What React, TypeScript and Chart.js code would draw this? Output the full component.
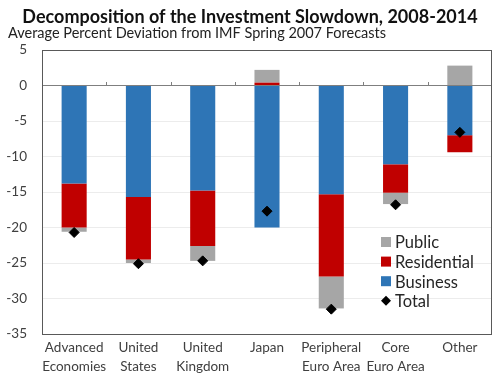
import React, { useEffect, useRef } from "react";
import { Chart, registerables } from "chart.js";

Chart.register(...registerables);

const categories: (string | string[])[] = [
  ["Advanced", "Economies"],
  ["United", "States"],
  ["United", "Kingdom"],
  "Japan",
  ["Peripheral", "Euro Area"],
  ["Core", "Euro Area"],
  "Other",
];
const business = [-13.8, -15.7, -14.8, -20.0, -15.3, -11.1, -7.0];
const residential = [-6.2, -8.8, -7.8, 0.4, -11.6, -4.0, -2.4];
const publicInv = [-0.6, -0.5, -2.1, 1.8, -4.5, -1.6, 2.8];
const total = [-20.7, -25.1, -24.7, -17.7, -31.5, -16.8, -6.6];

const yMin = -35;
const yMax = 5;
const yStep = 5;

const titleText = "Decomposition of the Investment Slowdown, 2008-2014";
const subtitleText = "Average Percent Deviation from IMF Spring 2007 Forecasts";

const COLORS = { business: "#2E75B6", residential: "#C00000", public: "#A6A6A6", total: "#000000" };
const FONT = "Lato, 'Open Sans', sans-serif";
const TEXT = "#404040";

const legendItems = [
  { label: "Public", color: COLORS.public, kind: "box" },
  { label: "Residential", color: COLORS.residential, kind: "box" },
  { label: "Business", color: COLORS.business, kind: "box" },
  { label: "Total", color: COLORS.total, kind: "diamond" },
];

const decorPlugin = {
  id: "decor",
  beforeDatasetsDraw(chart: any) {
    const { ctx, scales } = chart;
    const y0 = Math.round(scales.y.getPixelForValue(0));
    const n = chart.data.labels.length;
    ctx.save();
    ctx.strokeStyle = "#7f7f7f";
    ctx.lineWidth = 1;
    for (let i = 1; i < n; i++) {
      const x = Math.round((scales.x.getPixelForValue(i - 1) + scales.x.getPixelForValue(i)) / 2) + 0.5;
      ctx.beginPath();
      ctx.moveTo(x, y0 - 4);
      ctx.lineTo(x, y0);
      ctx.stroke();
    }
    ctx.restore();
  },
  afterDraw(chart: any) {
    const { ctx, chartArea: a } = chart;
    ctx.save();
    // plot box
    ctx.strokeStyle = "#595959";
    ctx.lineWidth = 1;
    ctx.strokeRect(a.left + 0.5, a.top + 0.5, a.right - a.left - 1, a.bottom - a.top);
    // title
    ctx.fillStyle = "#111111";
    ctx.textBaseline = "middle";
    ctx.textAlign = "center";
    ctx.font = `bold 18px ${FONT}`;
    ctx.fillText(titleText, chart.width / 2, 17);
    ctx.textAlign = "left";
    ctx.font = `14.5px ${FONT}`;
    ctx.fillStyle = "#222222";
    ctx.fillText(subtitleText, 8, 33);
    // legend
    const lx = a.right - 111;
    let ly = a.bottom - 92;
    ctx.font = `16.5px ${FONT}`;
    for (const it of legendItems) {
      ctx.fillStyle = it.color;
      if (it.kind === "box") {
        ctx.fillRect(lx, ly - 5, 10, 10);
      } else {
        ctx.beginPath();
        ctx.moveTo(lx + 5, ly - 5);
        ctx.lineTo(lx + 10, ly);
        ctx.lineTo(lx + 5, ly + 5);
        ctx.lineTo(lx, ly);
        ctx.closePath();
        ctx.fill();
      }
      ctx.fillStyle = "#262626";
      ctx.fillText(it.label, lx + 14, ly + 1);
      ly += 19.6;
    }
    ctx.restore();
  },
};

export default function App() {
  const ref = useRef<HTMLCanvasElement | null>(null);
  useEffect(() => {
    document.body.style.margin = "0";
    const chart = new Chart(ref.current as HTMLCanvasElement, {
      type: "bar",
      data: {
        labels: categories,
        datasets: [
          { type: "line", label: "Total", data: total, showLine: false, pointStyle: "rectRot", pointRadius: 5, pointHoverRadius: 5, backgroundColor: COLORS.total, borderColor: COLORS.total, stack: "total", order: 0 } as any,
          { label: "Business", data: business, backgroundColor: COLORS.business, stack: "inv", order: 1 },
          { label: "Residential", data: residential, backgroundColor: COLORS.residential, stack: "inv", order: 1 },
          { label: "Public", data: publicInv, backgroundColor: COLORS.public, stack: "inv", order: 1 },
        ],
      },
      options: {
        animation: false,
        responsive: true,
        maintainAspectRatio: false,
        layout: { padding: { top: 50, right: 8, left: 0, bottom: 0 } },
        datasets: { bar: { barPercentage: 0.39, categoryPercentage: 1 } },
        plugins: { legend: { display: false }, tooltip: { enabled: false }, title: { display: false } },
        scales: {
          x: {
            stacked: true,
            grid: { display: false, drawTicks: false },
            border: { display: false },
            ticks: { color: TEXT, font: { family: FONT, size: 13.5, lineHeight: 1.35 }, padding: 5, maxRotation: 0, autoSkip: false },
            afterFit: (s: any) => { s.height = 44; },
          },
          y: {
            stacked: true,
            min: yMin,
            max: yMax,
            grid: {
              drawTicks: false,
              color: (c: any) => (c.tick && c.tick.value === 0 ? "#7f7f7f" : "#ececec"),
            },
            border: { display: false },
            ticks: { stepSize: yStep, color: TEXT, font: { family: FONT, size: 13.5 }, padding: 15 },
            afterFit: (s: any) => { s.width = 42; },
          },
        },
      },
      plugins: [decorPlugin],
    });
    return () => chart.destroy();
  }, []);
  return (
    <div style={{ position: "absolute", left: 0, top: 0, width: 500, height: 378 }}>
      <canvas ref={ref} />
    </div>
  );
}
